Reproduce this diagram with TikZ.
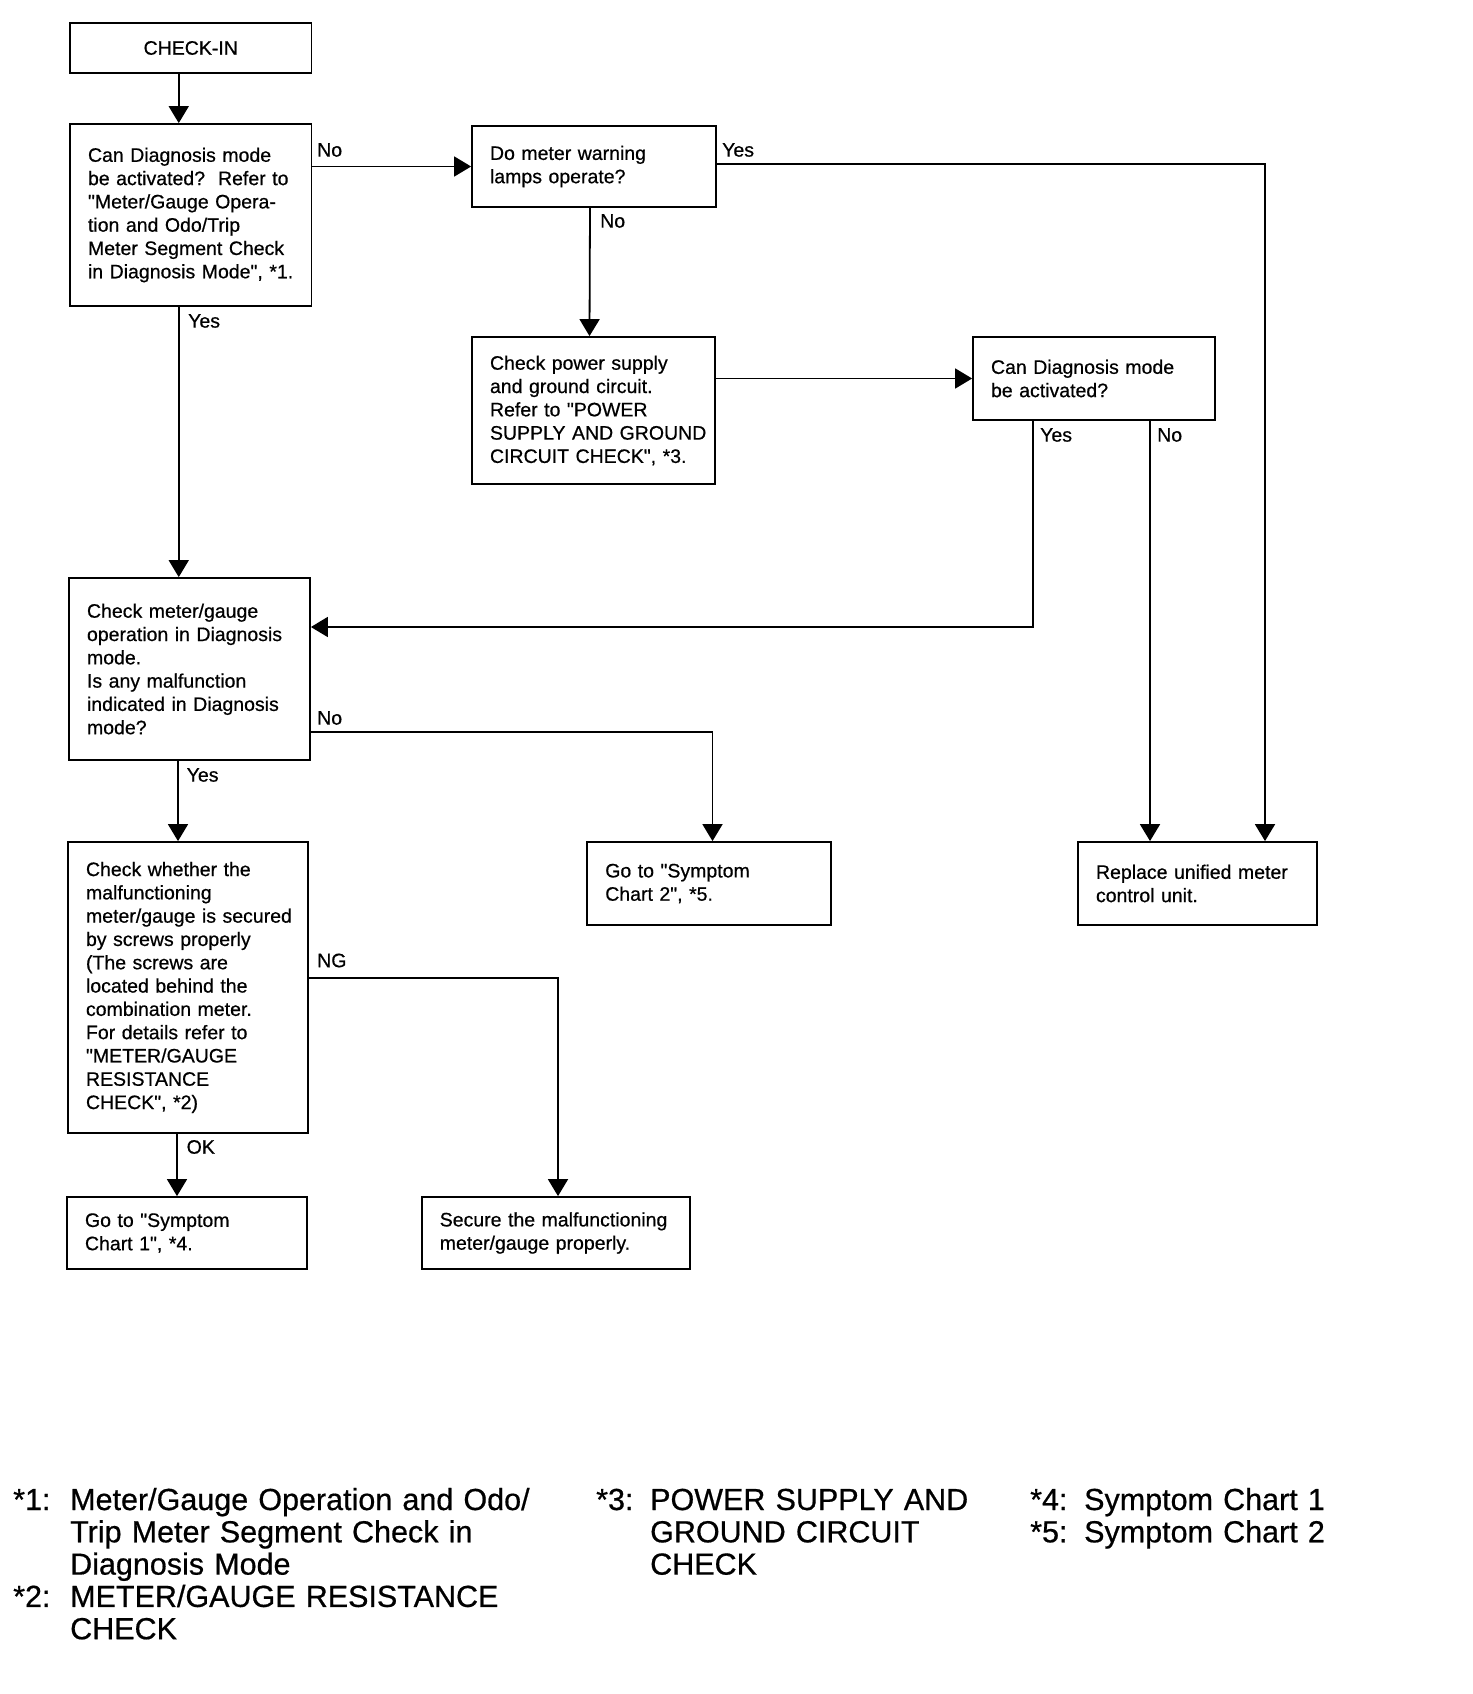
\documentclass[tikz,border=0pt]{standalone}
\usepackage{fontspec}
\setmainfont{Liberation Sans}[Ligatures=TeXOff,FakeBold=0.6]
\usetikzlibrary{arrows.meta}

\begin{document}
\begin{tikzpicture}[x=1pt,y=-1pt,
  box/.style={draw=black,line width=1.8pt,align=left,inner xsep=8pt,inner ysep=0pt,
    font=\fontsize{19.5}{23.3}\selectfont,execute at begin node={\leftskip=10pt}},
  chkbox/.style={draw=black,line width=1.8pt,align=center,inner sep=0pt,
    font=\fontsize{19.5}{23.3}\selectfont},
  lbl/.style={anchor=west,inner sep=0pt,font=\fontsize{19.5}{23.3}\selectfont},
  note/.style={anchor=base west,inner sep=0pt,align=left,text width=480pt,
    font=\fontsize{30.5}{32.3}\selectfont},
  arr/.style={line width=1.8pt,-{Triangle[length=17pt,width=20pt]}}]

\useasboundingbox (0,0) rectangle (1472,1694);

% boxes
\node[chkbox,minimum width=241.5pt,minimum height=50.7pt] (chk) at (190.75,48) {CHECK-IN};
\node[box,text width=225.5pt,minimum height=182pt] (q1) at (190.75,215)
  {Can Diagnosis mode\\be activated?\ \ Refer to\\"Meter/Gauge Opera-\\tion and Odo/Trip\\Meter Segment Check\\in Diagnosis Mode", *1.};
\node[box,text width=228pt,minimum height=81pt] (q2) at (594,166.5)
  {Do meter warning\\lamps operate?};
\node[box,text width=227pt,minimum height=147pt] (q3) at (593.5,410.5)
  {Check power supply\\and ground circuit.\\Refer to "POWER\\SUPPLY AND GROUND\\CIRCUIT CHECK", *3.};
\node[box,text width=226pt,minimum height=83pt] (q4) at (1094,378.5)
  {Can Diagnosis mode\\be activated?};
\node[box,text width=225pt,minimum height=182pt] (q5) at (189.5,669)
  {Check meter/gauge\\operation in Diagnosis\\mode.\\Is any malfunction\\indicated in Diagnosis\\mode?};
\node[box,text width=227.5pt,minimum height=83pt] (g2) at (709,883.5)
  {Go to "Symptom\\Chart 2", *5.};
\node[box,text width=223pt,minimum height=83pt] (rep) at (1197.5,883.5)
  {Replace unified meter\\control unit.};
\node[box,text width=224pt,minimum height=291pt] (q7) at (188,987.5)
  {Check whether the\\malfunctioning\\meter/gauge is secured\\by screws properly\\(The screws are\\located behind the\\combination meter.\\For details refer to\\"METER/GAUGE\\RESISTANCE\\CHECK", *2)};
\node[box,text width=252.5pt,minimum height=72pt] (sec) at (556,1233)
  {Secure the malfunctioning\\meter/gauge properly.};
\node[box,text width=224pt,minimum height=72pt] (g1) at (187,1233)
  {Go to "Symptom\\Chart 1", *4.};

% connectors
\draw[arr] ([xshift=-12pt]chk.south) -- ([xshift=-12pt]q1.north);
\draw[arr] (q1.east |- q2.west) -- (q2.west);
\draw[arr] ([yshift=2.5pt]q2.east) -| ([xshift=67.5pt]rep.north);
\draw[arr] ([xshift=-4pt]q2.south) -- ([xshift=-4pt]q3.north);
\draw[arr] (q3.east |- q4.west) -- (q4.west);
\draw[arr] ([xshift=-61pt]q4.south) |- ([yshift=42pt]q5.east);
\draw[arr] ([xshift=56pt]q4.south) -- ([xshift=56pt]q4.south |- rep.north);
\draw[arr] ([xshift=-12pt]q1.south) -- ([xshift=-12pt]q1.south |- q5.north);
\draw[arr] ([yshift=-63pt]q5.east) -| ([xshift=3.5pt]g2.north);
\draw[arr] ([xshift=-11.5pt]q5.south) -- ([xshift=-11.5pt]q5.south |- q7.north);
\draw[arr] ([yshift=9.5pt]q7.east) -| ([xshift=2pt]sec.north);
\draw[arr] ([xshift=-11pt]q7.south) -- ([xshift=-11pt]q7.south |- g1.north);

% branch labels
\node[lbl] (l1) at (317,150) {No};
\node[lbl] (l2) at (722,150) {Yes};
\node[lbl] (l3) at (600,221) {No};
\node[lbl] (l4) at (188,321) {Yes};
\node[lbl] (l5) at (1040,435) {Yes};
\node[lbl] (l6) at (1157,435) {No};
\node[lbl] (l7) at (317,718) {No};
\node[lbl] (l8) at (186.5,775) {Yes};
\node[lbl] (l9) at (317,960.5) {NG};
\node[lbl] (l10) at (186.5,1147) {OK};

% footnotes
\node[note,text width=50pt] (n1) at (13,1510) {*1:};
\node[note] (t1) at (70,1510) {Meter/Gauge Operation and Odo/\\Trip Meter Segment Check in\\Diagnosis Mode};
\node[note,text width=50pt] (n2) at (13,1606.9) {*2:};
\node[note] (t2) at (70,1606.9) {METER/GAUGE RESISTANCE\\CHECK};
\node[note,text width=50pt] (n3) at (596,1510) {*3:};
\node[note] (t3) at (650,1510) {POWER SUPPLY AND\\GROUND CIRCUIT\\CHECK};
\node[note,text width=50pt] (n4) at (1030,1510) {*4:};
\node[note,text width=300pt] (t4) at (1084,1510) {Symptom Chart 1};
\node[note,text width=50pt] (n5) at (1030,1542.3) {*5:};
\node[note,text width=300pt] (t5) at (1084,1542.3) {Symptom Chart 2};

\end{tikzpicture}
\end{document}
